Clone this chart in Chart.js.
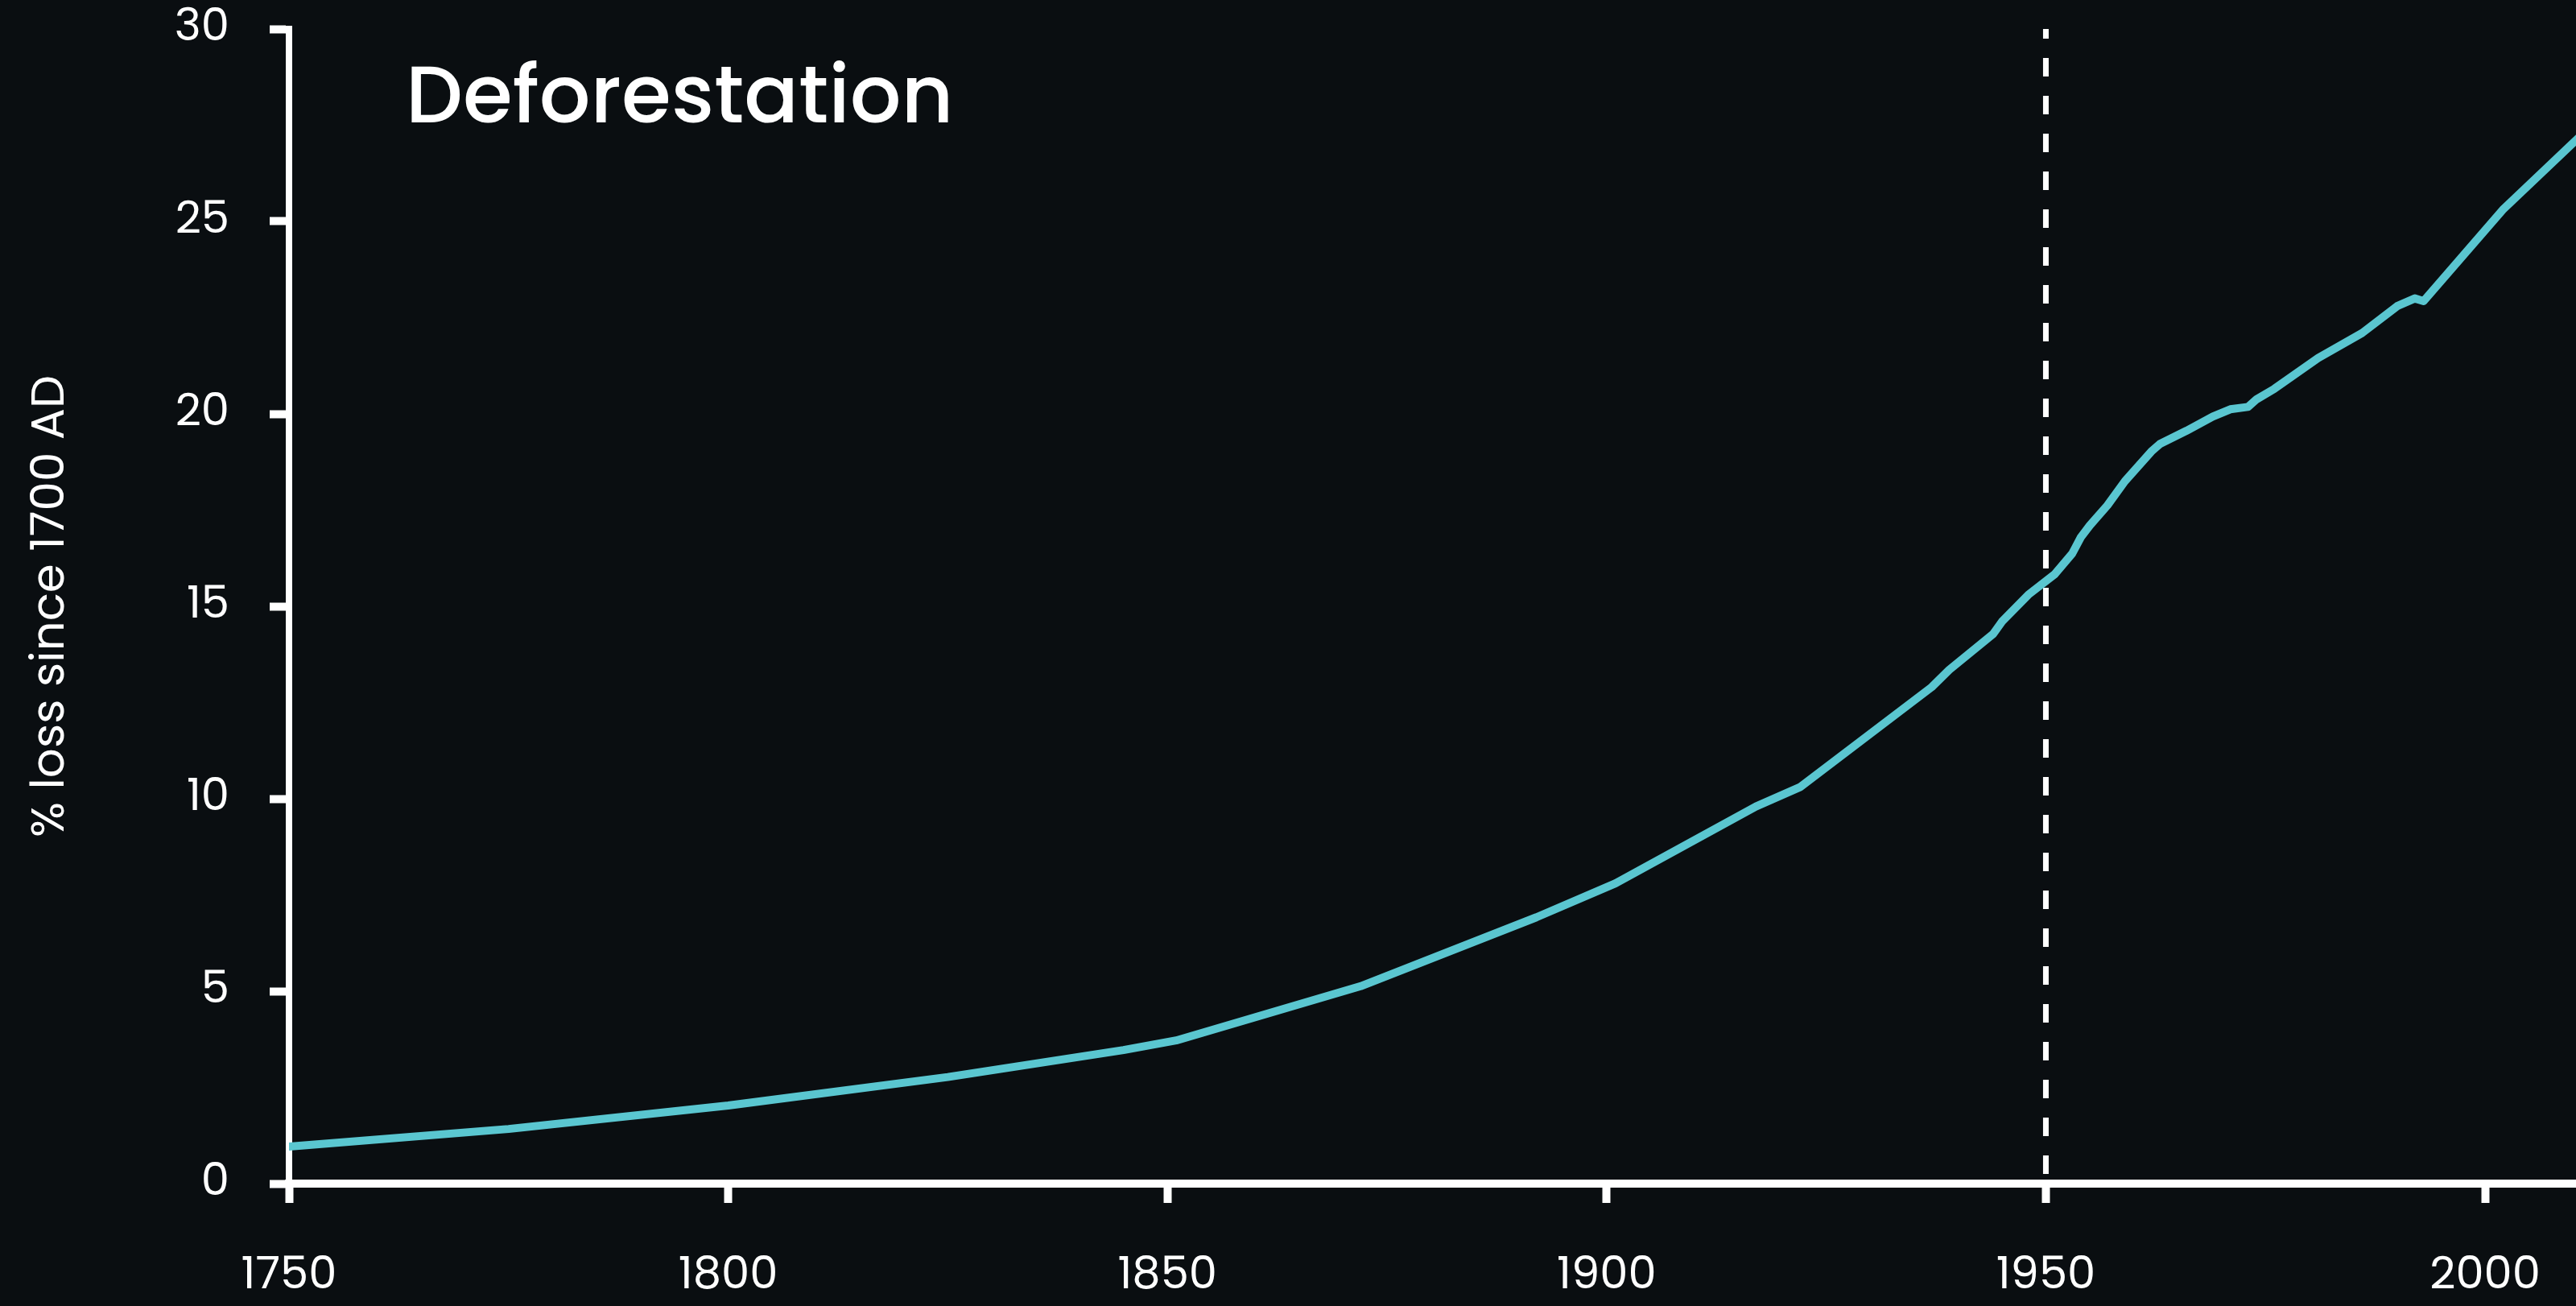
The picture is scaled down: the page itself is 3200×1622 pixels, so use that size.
<!DOCTYPE html>
<html>
<head>
<meta charset="utf-8">
<title>Deforestation</title>
<script src="https://cdn.jsdelivr.net/npm/chart.js@4.4.1/dist/chart.umd.min.js"></script>
<style>
    html, body { margin: 0; padding: 0; background: #0a0e11; }
    canvas { display: block; }
</style>
</head>
<body>
<canvas id="myChart" width="3200" height="1622"></canvas>
<script>
// values
var years = [1750, 1775, 1800, 1825, 1845, 1851, 1872, 1892, 1901, 1917, 1922, 1937, 1939, 1944, 1945,
    1948, 1951, 1953, 1954, 1955, 1957, 1959, 1962, 1963, 1966, 1969, 1971, 1973, 1974, 1976,
    1981, 1986, 1990, 1992, 1993, 2002, 2011];
var lossPct = [0.96, 1.42, 2.03, 2.77, 3.47, 3.72, 5.13, 6.92, 7.8, 9.8, 10.3, 12.9, 13.35, 14.28, 14.6,
    15.3, 15.83, 16.37, 16.8, 17.1, 17.62, 18.25, 19.02, 19.22, 19.56, 19.93, 20.12, 20.18, 20.38, 20.65,
    21.45, 22.1, 22.8, 23.0, 22.93, 25.3, 27.25];
var markerYear = 1950;
var yTicks = [0, 5, 10, 15, 20, 25, 30];
var xTicks = [1750, 1800, 1850, 1900, 1950, 2000];

var fontFamily = 'Poppins, Inter, sans-serif';
var white = '#ffffff';
var teal = 'rgb(90, 198, 208)';

window.onload = function() {
    var points = years.map(function(y, i) { return { x: y, y: lossPct[i] }; });
    var marker = [{ x: markerYear, y: yTicks[yTicks.length - 1] }, { x: markerYear, y: yTicks[0] }];

    // chart title sits inside the plot area, top left
    var titlePlugin = {
        id: 'innerTitle',
        afterDraw: function(chart) {
            var ctx = chart.ctx;
            ctx.save();
            ctx.fillStyle = white;
            ctx.font = '500 100px ' + fontFamily;
            ctx.textBaseline = 'alphabetic';
            ctx.textAlign = 'left';
            ctx.fillText('Deforestation', chart.chartArea.left + 145, 152);
            ctx.restore();
        }
    };

    var plainLabel = function(value) { return String(value); };

    var ctx = document.getElementById('myChart').getContext('2d');
    var myChart = new Chart(ctx, {
        type: 'line',
        data: {
            datasets: [{
                label: 'Deforestation',
                data: points,
                borderColor: teal,
                borderWidth: 10,
                borderCapStyle: 'round',
                borderJoinStyle: 'round',
                pointRadius: 0,
                tension: 0,
                fill: false
            },
            {
                label: '1950',
                data: marker,
                borderColor: white,
                borderWidth: 7,
                borderDash: [23, 24],
                borderDashOffset: 11,
                pointRadius: 0,
                fill: false
            }]
        },
        plugins: [titlePlugin],
        options: {
            responsive: false,
            animation: false,
            layout: {
                padding: { top: 36, right: 0, bottom: 0, left: 0 }
            },
            plugins: {
                legend: { display: false },
                tooltip: { enabled: false }
            },
            scales: {
                x: {
                    type: 'linear',
                    min: xTicks[0],
                    max: 2010.35,
                    afterBuildTicks: function(scale) {
                        scale.ticks = xTicks.map(function(v) { return { value: v }; });
                    },
                    afterFit: function(scale) {
                        scale.height = 152;
                        scale.paddingLeft = 0;
                        scale.paddingRight = 0;
                    },
                    ticks: {
                        includeBounds: false,
                        color: white,
                        padding: 58,
                        maxRotation: 0,
                        callback: plainLabel,
                        font: { family: fontFamily, size: 56 }
                    },
                    grid: {
                        drawOnChartArea: false,
                        drawTicks: true,
                        tickLength: 24,
                        tickWidth: 10,
                        tickColor: white
                    },
                    border: { display: true, color: white, width: 10 }
                },
                y: {
                    min: yTicks[0],
                    max: yTicks[yTicks.length - 1],
                    afterBuildTicks: function(scale) {
                        scale.ticks = yTicks.map(function(v) { return { value: v }; });
                    },
                    afterFit: function(scale) {
                        scale.width = 359;
                        scale.paddingTop = 0;
                        scale.paddingBottom = 0;
                    },
                    ticks: {
                        color: white,
                        padding: 50,
                        callback: plainLabel,
                        font: { family: fontFamily, size: 56 }
                    },
                    grid: {
                        drawOnChartArea: false,
                        drawTicks: true,
                        tickLength: 24,
                        tickWidth: 10,
                        tickColor: white
                    },
                    border: { display: true, color: white, width: 8 },
                    title: {
                        display: true,
                        text: '% loss since 1700 AD',
                        color: white,
                        padding: { top: 30, bottom: 0 },
                        font: { family: fontFamily, size: 58 }
                    }
                }
            }
        }
    });
};
</script>
</body>
</html>
